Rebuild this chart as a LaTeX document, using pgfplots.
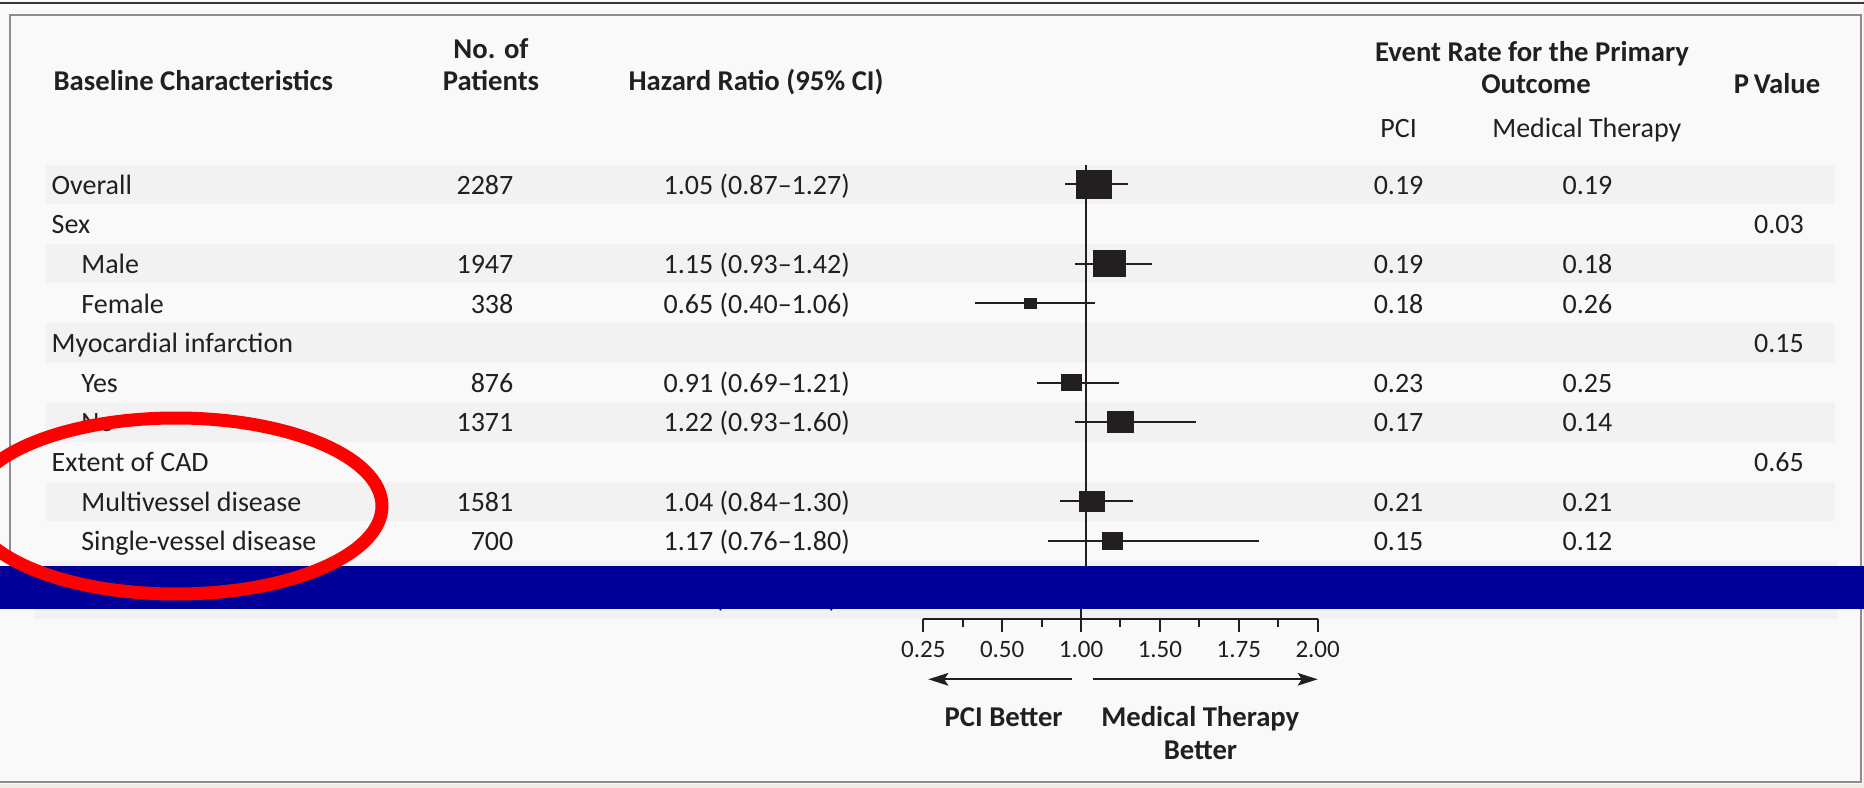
\documentclass[border=0pt]{standalone}
\usepackage{fontspec}
\setmainfont{Carlito}
\usepackage{pgfplots}
\pgfplotsset{compat=1.18}
\usepackage{pgfplotstable}
\usetikzlibrary{arrows.meta}

\definecolor{ink}{RGB}{35,31,32}
\definecolor{bg}{RGB}{249,249,249}
\definecolor{band}{RGB}{242,242,242}
\definecolor{frame}{RGB}{140,140,140}
\definecolor{navy}{RGB}{0,0,153}
\definecolor{beige}{RGB}{239,236,230}

\newcommand\rf{\fontsize{8.4}{10}\selectfont}
\newcommand\hf{\fontsize{8.6}{10}\selectfont\bfseries}

% hazard ratio -> position on the drawn (piecewise) scale
\pgfmathdeclarefunction{hrpos}{1}{%
  \pgfmathparse{(#1<0.5) ? ((#1-0.25)/0.25-2) : ((#1<1) ? ((#1-0.5)/0.5-1) : ((#1<1.5) ? ((#1-1)/0.5) : ((#1<1.75) ? ((#1-1.5)/0.25+1) : ((#1-1.75)/0.25+2))))}}

% row  HR  lower  upper  box height (px)
\pgfplotstableread{
row hr   lo   hi   h
0   1.05 0.87 1.27 28
2   1.15 0.93 1.42 25.7
3   0.65 0.40 1.06 9.7
5   0.91 0.69 1.21 16.3
6   1.22 0.93 1.60 20.7
8   1.04 0.84 1.30 20.7
9   1.17 0.76 1.80 16.3
}\hrdata
\pgfplotstablecreatecol[create col/expr={hrpos(\thisrow{hr})}]{p}\hrdata
\pgfplotstablecreatecol[create col/expr={hrpos(\thisrow{hi})-hrpos(\thisrow{hr})}]{ep}\hrdata
\pgfplotstablecreatecol[create col/expr={hrpos(\thisrow{hr})-hrpos(\thisrow{lo})}]{em}\hrdata

\tikzset{t/.style={inner sep=0pt, text=ink, font=\rf},
         hd/.style={inner sep=0pt, text=ink, font=\hf}}

\begin{document}
\begin{tikzpicture}[x=0.3pt,y=-0.3pt]
\useasboundingbox (0,0) rectangle (1864,788);
\clip (0,0) rectangle (1864,788);
% background and frame
\fill[bg] (0,0) rectangle (1864,788);
\fill[beige] (0,784) rectangle (1864,788);
\fill[beige] (1863,0) rectangle (1864,788);
\draw[ink!90, line width=0.8pt] (0,2.9) -- (1864,2.9);
\draw[frame, line width=0.6pt] (10,566) -- (10,15) -- (1861.3,15) -- (1861.3,782.3) -- (0,782.3);
% row bands
\foreach \i in {0,2,4,6,8}{
  \fill[band] (46.4,{184.3+39.64*\i-19.7}) rectangle (1835,{184.3+39.64*\i+19.7});
}
\fill[band] (34,561) rectangle (1838,618.5);

% header
\node[hd, anchor=base west] at (53,90) {Baseline Characteristics};
\node[hd, anchor=base] at (491,58.3) {No. of};
\node[hd, anchor=base] at (491,90) {Patients};
\node[hd, anchor=base] at (756,90.7) {Hazard Ratio (95\% CI)};
\node[hd, anchor=base] at (1532,61) {Event Rate for the Primary};
\node[hd, anchor=base] at (1536,93.3) {Outcome};
\node[hd, anchor=base] at (1777,93.3) {P\,Value};
\node[t, anchor=base] at (1398.6,137.3) {PCI};
\node[t, anchor=base] at (1586.8,137.3) {Medical Therapy};

% rows (baseline = row centre + 9.8)
\node[t, anchor=base west] at (51,194.1) {Overall};
\node[t, anchor=base east] at (514,194.1) {2287};
\node[t, anchor=base west] at (663,194.1) {1.05 (0.87–1.27)};
\node[t, anchor=base] at (1398.6,194.1) {0.19};
\node[t, anchor=base] at (1587.4,194.1) {0.19};

\node[t, anchor=base west] at (51,233.74) {Sex};
\node[t, anchor=base] at (1779,233.74) {0.03};

\node[t, anchor=base west] at (80.7,273.38) {Male};
\node[t, anchor=base east] at (514,273.38) {1947};
\node[t, anchor=base west] at (663,273.38) {1.15 (0.93–1.42)};
\node[t, anchor=base] at (1398.6,273.38) {0.19};
\node[t, anchor=base] at (1587.4,273.38) {0.18};

\node[t, anchor=base west] at (80.7,313.02) {Female};
\node[t, anchor=base east] at (514,313.02) {338};
\node[t, anchor=base west] at (663,313.02) {0.65 (0.40–1.06)};
\node[t, anchor=base] at (1398.6,313.02) {0.18};
\node[t, anchor=base] at (1587.4,313.02) {0.26};

\node[t, anchor=base west] at (51,352.66) {Myocardial infarction};
\node[t, anchor=base] at (1779,352.66) {0.15};

\node[t, anchor=base west] at (80.7,392.3) {Yes};
\node[t, anchor=base east] at (514,392.3) {876};
\node[t, anchor=base west] at (663,392.3) {0.91 (0.69–1.21)};
\node[t, anchor=base] at (1398.6,392.3) {0.23};
\node[t, anchor=base] at (1587.4,392.3) {0.25};

\node[t, anchor=base west] at (80.7,431.94) {No};
\node[t, anchor=base east] at (514,431.94) {1371};
\node[t, anchor=base west] at (663,431.94) {1.22 (0.93–1.60)};
\node[t, anchor=base] at (1398.6,431.94) {0.17};
\node[t, anchor=base] at (1587.4,431.94) {0.14};

\node[t, anchor=base west] at (51,471.58) {Extent of CAD};
\node[t, anchor=base] at (1779,471.58) {0.65};

\node[t, anchor=base west] at (80.7,511.22) {Multivessel disease};
\node[t, anchor=base east] at (514,511.22) {1581};
\node[t, anchor=base west] at (663,511.22) {1.04 (0.84–1.30)};
\node[t, anchor=base] at (1398.6,511.22) {0.21};
\node[t, anchor=base] at (1587.4,511.22) {0.21};

\node[t, anchor=base west] at (80.7,550.86) {Single-vessel disease};
\node[t, anchor=base east] at (514,550.86) {700};
\node[t, anchor=base west] at (663,550.86) {1.17 (0.76–1.80)};
\node[t, anchor=base] at (1398.6,550.86) {0.15};
\node[t, anchor=base] at (1587.4,550.86) {0.12};

% paren tails of the row hidden under the bar
\node[t, anchor=base west] at (714,607) {(};
\node[t, anchor=base east] at (838,607) {)};

% forest plot: boxes and confidence intervals
\begin{axis}[at={(266.538pt,-49.344pt)}, anchor=north west,
  scale only axis, width=141.984pt, height=118.92pt,
  xmin=-2.5, xmax=3.5, ymin=-0.5, ymax=9.5, y dir=reverse,
  hide axis, clip=false]
\addplot[ink, line width=0.6pt] coordinates {(0,-0.487) (0,9.63)};
\addplot[ink, scatter, only marks, mark=square*,
  point meta=explicit, point meta min=0, point meta max=100,
  mark options={fill=ink, draw=ink, line width=0.3pt, xscale=1.25},
  scatter/@pre marker code/.code={%
    \pgfmathsetmacro\ms{0.015*\pgfplotspointmetatransformed}%
    \scope[mark size=\ms pt]},
  scatter/@post marker code/.code={\endscope},
  error bars/.cd, x dir=both, x explicit, error mark=none,
  error bar style={line width=0.6pt, ink}]
  table[x=p, y=row, meta=h, x error plus=ep, x error minus=em] {\hrdata};
\end{axis}

% scale
\begin{axis}[at={(276.99pt,-185.7pt)}, anchor=south west,
  scale only axis, width=118.32pt, height=10pt,
  xmin=-2, xmax=3, ymin=0, ymax=1, clip=false,
  axis y line=none, axis x line=bottom,
  x axis line style={-, line width=0.6pt, ink},
  xtick={-2,-1,0,1,2,3},
  xticklabels={0.25,0.50,1.00,1.50,1.75,2.00},
  minor xtick={-1.5,-0.5,0.5,1.5,2.5},
  xtick align=outside,
  major tick length=3.8pt, minor tick length=2.3pt,
  tick style={ink, line width=0.6pt},
  xticklabel style={font=\fontsize{7.5}{9}\selectfont, text=ink, anchor=base, inner sep=0pt, yshift=-7.69pt}]
\addplot[ink, line width=0.6pt] coordinates {(0,0) (0,0.3)};
\end{axis}

% direction arrows and captions
\draw[ink, line width=0.6pt, -{Stealth[length=6pt,width=3.8pt,inset=1.2pt]}] (1071.7,679.3) -- (928.3,679.3);
\draw[ink, line width=0.6pt, -{Stealth[length=6pt,width=3.8pt,inset=1.2pt]}] (1092.7,679.3) -- (1317.7,679.3);
\node[hd, anchor=base] at (1003.7,726.7) {PCI Better};
\node[hd, anchor=base] at (1200.3,726.7) {Medical Therapy};
\node[hd, anchor=base] at (1200.5,759) {Better};

% overlays
\fill[navy] (0,566) rectangle (1864,609);
\draw[red, line width=3.9pt] (176,506) ellipse [x radius=61.8pt, y radius=26.4pt];
\end{tikzpicture}
\end{document}
